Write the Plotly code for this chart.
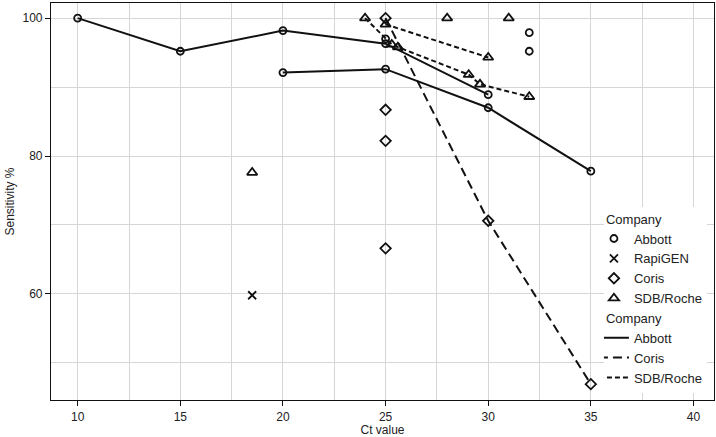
import plotly.graph_objects as go

# ---- data ----
abbott_l1_x = [10, 15, 20, 25, 30]
abbott_l1_y = [100, 95.2, 98.2, 96.3, 88.9]
abbott_l2_x = [20, 25, 30, 35]
abbott_l2_y = [92.1, 92.6, 87.0, 77.8]
abbott_pts_x = [25, 32, 32]
abbott_pts_y = [97.0, 97.9, 95.2]

rapigen_x = [18.5]
rapigen_y = [59.8]

coris_l_x = [25, 30, 35]
coris_l_y = [100, 70.6, 46.9]
coris_pts_x = [25, 25, 25]
coris_pts_y = [86.7, 82.2, 66.6]

sdb_la_x = [24, 25.3, 25.6, 29.05, 29.6, 32]
sdb_la_y = [100, 96.2, 95.8, 91.8, 90.4, 88.6]
sdb_lb_x = [25, 30]
sdb_lb_y = [99.1, 94.3]
sdb_pts_x = [18.5, 28, 31]
sdb_pts_y = [77.6, 100, 100]

x_ticks = [10, 15, 20, 25, 30, 35, 40]
y_ticks = [60, 80, 100]

BLACK = "#111111"
fig = go.Figure()

# ---- lines (legend 2) ----
def add_line(x, y, name, dash, show):
    fig.add_trace(go.Scatter(x=x, y=y, mode="lines", name=name, legend="legend2",
                             line=dict(color=BLACK, width=2, dash=dash),
                             showlegend=show, hoverinfo="skip"))

add_line(abbott_l1_x, abbott_l1_y, "Abbott", "solid", True)
add_line(abbott_l2_x, abbott_l2_y, "Abbott", "solid", False)
add_line(coris_l_x, coris_l_y, "Coris", "9px,5px", True)
add_line(sdb_la_x, sdb_la_y, "SDB/Roche", "5px,3px", True)
add_line(sdb_lb_x, sdb_lb_y, "SDB/Roche", "5px,3px", False)

# ---- markers (legend 1) ----
def add_pts(x, y, name, symbol, size):
    fig.add_trace(go.Scatter(x=x, y=y, mode="markers", name=name, legend="legend",
                             marker=dict(symbol=symbol, size=size, color=BLACK,
                                         line=dict(color=BLACK, width=1.8))))

add_pts(abbott_l1_x + abbott_l2_x + abbott_pts_x,
        abbott_l1_y + abbott_l2_y + abbott_pts_y, "Abbott", "circle-open", 7)
add_pts(rapigen_x, rapigen_y, "RapiGEN", "x-thin-open", 8)
add_pts(coris_l_x + coris_pts_x, coris_l_y + coris_pts_y, "Coris", "diamond-open", 8)
add_pts(sdb_la_x + sdb_lb_x + sdb_pts_x, sdb_la_y + sdb_lb_y + sdb_pts_y,
        "SDB/Roche", "triangle-up-open", 9)

GRID = "#d6d6d6"
leg_common = dict(xanchor="left", font=dict(size=13), bgcolor="white",
                  tracegroupgap=0, itemwidth=30, indentation=-10,
                  title=dict(text="Company", font=dict(size=13)))
fig.update_layout(
    width=716, height=437,
    margin=dict(l=51, r=2, t=3, b=37),
    paper_bgcolor="white", plot_bgcolor="white",
    font=dict(family="Liberation Sans, Arial, sans-serif", size=12, color="#222222"),
    xaxis=dict(range=[8.7, 41.0], tickvals=x_ticks, ticks="outside", ticklen=5,
               tickcolor=BLACK, showline=True, linecolor=BLACK, linewidth=1.2, mirror=True,
               showgrid=True, gridcolor=GRID, gridwidth=1, zeroline=False, automargin=False,
               minor=dict(dtick=2.5, tick0=10, showgrid=True, gridcolor=GRID, gridwidth=1),
               title=dict(text="Ct value", standoff=0, font=dict(size=12))),
    yaxis=dict(range=[44.6, 102.2], tickvals=y_ticks, ticks="outside", ticklen=5,
               tickcolor=BLACK, showline=True, linecolor=BLACK, linewidth=1.2, mirror=True,
               showgrid=True, gridcolor=GRID, gridwidth=1, zeroline=False, automargin=False,
               minor=dict(dtick=10, tick0=0, showgrid=True, gridcolor=GRID, gridwidth=1),
               title=dict(text="Sensitivity %", standoff=5, font=dict(size=12))),
    legend=dict(x=0.834, y=0.487, yanchor="top", **leg_common),
    legend2=dict(x=0.834, y=0.018, yanchor="bottom", **leg_common),
    showlegend=True,
)

fig.write_html("out.html", config={"displayModeBar": False},
               post_script="document.body.style.margin='0';")
